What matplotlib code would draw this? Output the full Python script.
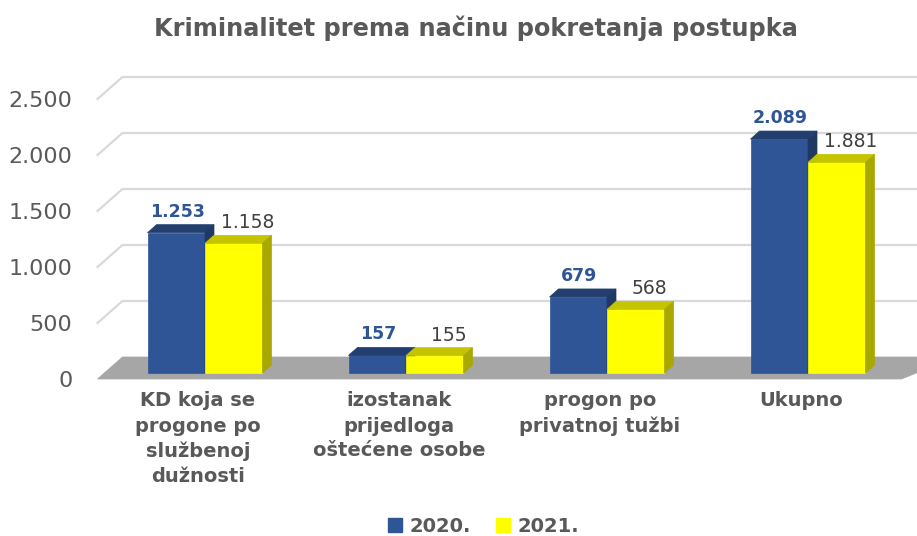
import matplotlib
matplotlib.use("Agg")
import matplotlib.pyplot as plt
from matplotlib.patches import Polygon
from matplotlib.lines import Line2D
from matplotlib.transforms import IdentityTransform

# ---- data ----
categories = ["KD koja se\nprogone po\nslužbenoj\ndužnosti",
              "izostanak\nprijedloga\noštećene osobe",
              "progon po\nprivatnoj tužbi",
              "Ukupno"]
series_names = ["2020.", "2021."]
values_2020 = [1253, 157, 679, 2089]
values_2021 = [1158, 155, 568, 1881]
yticks = [0, 500, 1000, 1500, 2000, 2500]
ytick_labels = ["0", "500", "1.000", "1.500", "2.000", "2.500"]
title = "Kriminalitet prema načinu pokretanja postupka"

def fmt(v):
    return f"{v:,}".replace(",", ".")

plt.rcParams["font.family"] = ["DejaVu Sans"]
GRAY = "#595959"
BLUE, BLUE_TOP, BLUE_SIDE = "#2F5597", "#233F70", "#1F3864"
YEL, YEL_TOP, YEL_SIDE = "#FFFF00", "#C4C400", "#A8A800"

W, H, DPI = 917, 536, 100
fig = plt.figure(figsize=(W / DPI, H / DPI), dpi=DPI)
ax = fig.add_axes([97.5 / W, 157 / H, 804 / W, 280 / H])
ax.set_xlim(-0.5, 3.5)
ax.set_ylim(0, 2500)
for s in ax.spines.values():
    s.set_visible(False)
ax.patch.set_alpha(0)

ax.set_yticks(yticks, ytick_labels)
ax.tick_params(axis="y", length=0, pad=18, labelsize=16, labelcolor=GRAY)
xs = list(range(len(categories)))
ax.set_xticks(xs, categories)
ax.tick_params(axis="x", length=0, pad=9, labelsize=14, labelcolor=GRAY)
for t in ax.get_xticklabels():
    t.set_fontweight("bold")
    t.set_linespacing(1.4)

ID = IdentityTransform()
BACK = (25, 22)      # back wall offset in pixels
BAR = (7, 6)         # bar front plane offset
DEPTH = (9, 8)       # bar depth


def P(x, y, dx=0, dy=0):
    px = ax.transData.transform((x, y))
    return (px[0] + dx, px[1] + dy)


def poly(pts, color, z):
    ax.add_patch(Polygon(pts, closed=True, facecolor=color, edgecolor=color,
                         linewidth=0.5, transform=ID, clip_on=False, zorder=z))

# gridlines on side + back wall
x0, x1 = ax.get_xlim()
for v in yticks[1:]:
    a = P(x0, v)
    b = P(x0, v, *BACK)
    c = P(x1, v, BACK[0] + 30, BACK[1])
    ax.add_line(Line2D([a[0], b[0], c[0]], [a[1], b[1], c[1]], color="#D9D9D9",
                       lw=1.6, transform=ID, clip_on=False, zorder=1))

# floor
poly([P(x0, 0), P(x0, 0, *BACK), P(x1, 0, BACK[0] + 30, BACK[1]), P(x1, 0)], "#A6A6A6", 2)

w = 0.286
bdx, bdy = BAR
ddx, ddy = BAR[0] + DEPTH[0], BAR[1] + DEPTH[1]
for i, c in enumerate(xs):
    for (vals, left, front, top, side) in [
        (values_2020, c - w, BLUE, BLUE_TOP, BLUE_SIDE),
        (values_2021, c, YEL, YEL_TOP, YEL_SIDE),
    ]:
        v = vals[i]
        l, r = left, left + w
        poly([P(l, 0, bdx, bdy), P(r, 0, bdx, bdy), P(r, v, bdx, bdy), P(l, v, bdx, bdy)], front, 3)
        poly([P(l, v, bdx, bdy), P(r, v, bdx, bdy), P(r, v, ddx, ddy), P(l, v, ddx, ddy)], top, 3)
        poly([P(r, 0, bdx, bdy), P(r, 0, ddx, ddy), P(r, v, ddx, ddy), P(r, v, bdx, bdy)], side, 3)
    ax.annotate(fmt(values_2020[i]), (c - w / 2, values_2020[i]), xytext=(bdx + 1, bdy + 16),
                textcoords="offset pixels", ha="center", va="baseline", fontsize=12.5,
                fontweight="bold", color=BLUE, zorder=5, annotation_clip=False)
    ax.annotate(fmt(values_2021[i]), (c + w / 2, values_2021[i]), xytext=(bdx + 14, bdy + 15),
                textcoords="offset pixels", ha="center", va="baseline", fontsize=13.5,
                color="#404040", zorder=5, annotation_clip=False)

fig.text(476 / W, 1 - 28 / H, title, ha="center", va="center", fontsize=17.3,
         fontweight="bold", color=GRAY)

handles = [Line2D([], [], marker="s", ls="", color=BLUE, markersize=10),
           Line2D([], [], marker="s", ls="", color=YEL, markersize=10)]
leg = fig.legend(handles, series_names, loc="center", bbox_to_anchor=(483 / W, 10 / H),
                 ncol=2, frameon=False, handletextpad=0.3, columnspacing=1.2,
                 handlelength=0.9, prop={"size": 14, "weight": "bold"})
for t in leg.get_texts():
    t.set_color(GRAY)

fig.savefig("out.png", dpi=DPI)
